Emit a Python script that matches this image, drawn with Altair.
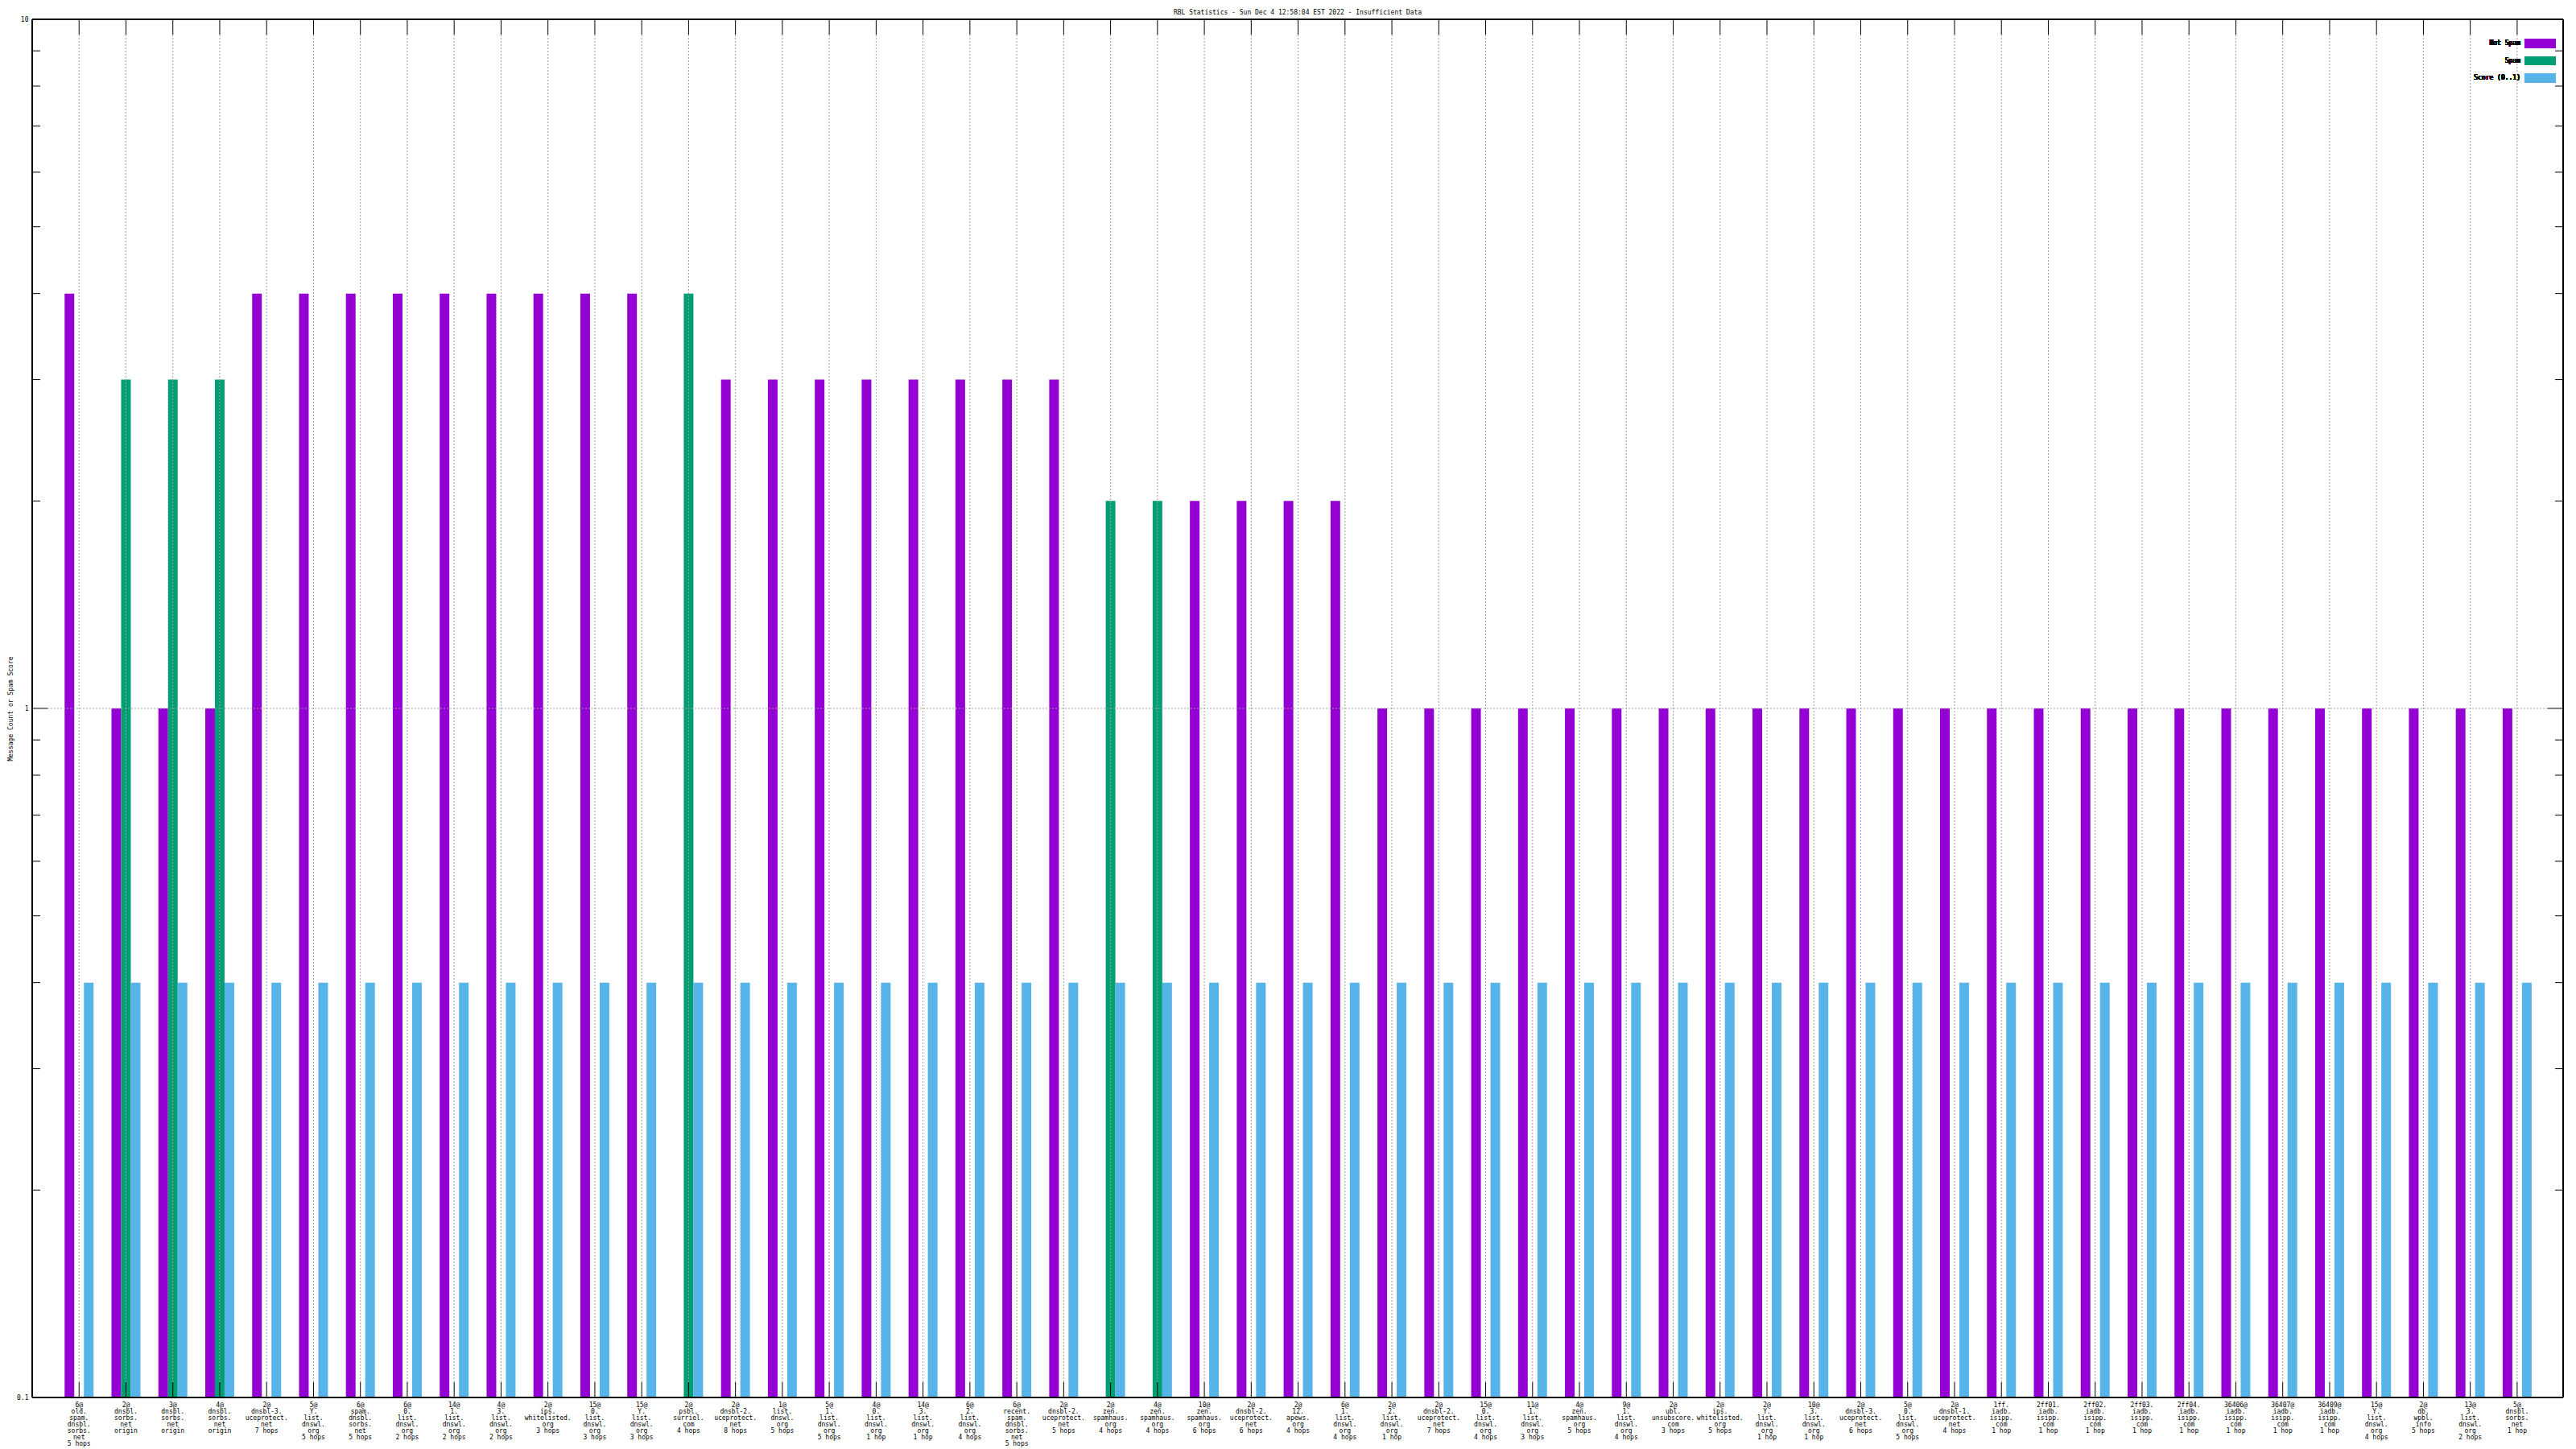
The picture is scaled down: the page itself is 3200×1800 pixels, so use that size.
import altair as alt
import pandas as pd

# ---------------- data ----------------
labels = [
    "6@|old.|spam.|dnsbl.|sorbs.|net|5 hops",
    "2@|dnsbl.|sorbs.|net|origin",
    "3@|dnsbl.|sorbs.|net|origin",
    "4@|dnsbl.|sorbs.|net|origin",
    "2@|dnsbl-3.|uceprotect.|net|7 hops",
    "5@|Y.|list.|dnswl.|org|5 hops",
    "6@|spam.|dnsbl.|sorbs.|net|5 hops",
    "6@|0.|list.|dnswl.|org|2 hops",
    "14@|1.|list.|dnswl.|org|2 hops",
    "4@|3.|list.|dnswl.|org|2 hops",
    "2@|ips.|whitelisted.|org|3 hops",
    "15@|0.|list.|dnswl.|org|3 hops",
    "15@|Y.|list.|dnswl.|org|3 hops",
    "2@|psbl.|surriel.|com|4 hops",
    "2@|dnsbl-2.|uceprotect.|net|8 hops",
    "1@|list.|dnswl.|org|5 hops",
    "5@|1.|list.|dnswl.|org|5 hops",
    "4@|0.|list.|dnswl.|org|1 hop",
    "14@|3.|list.|dnswl.|org|1 hop",
    "6@|2.|list.|dnswl.|org|4 hops",
    "6@|recent.|spam.|dnsbl.|sorbs.|net|5 hops",
    "2@|dnsbl-2.|uceprotect.|net|5 hops",
    "2@|zen.|spamhaus.|org|4 hops",
    "4@|zen.|spamhaus.|org|4 hops",
    "10@|zen.|spamhaus.|org|6 hops",
    "2@|dnsbl-2.|uceprotect.|net|6 hops",
    "2@|12.|apews.|org|4 hops",
    "6@|1.|list.|dnswl.|org|4 hops",
    "2@|2.|list.|dnswl.|org|1 hop",
    "2@|dnsbl-2.|uceprotect.|net|7 hops",
    "15@|0.|list.|dnswl.|org|4 hops",
    "11@|1.|list.|dnswl.|org|3 hops",
    "4@|zen.|spamhaus.|org|5 hops",
    "9@|1.|list.|dnswl.|org|4 hops",
    "2@|ubl.|unsubscore.|com|3 hops",
    "2@|ips.|whitelisted.|org|5 hops",
    "2@|Y.|list.|dnswl.|org|1 hop",
    "10@|3.|list.|dnswl.|org|1 hop",
    "2@|dnsbl-3.|uceprotect.|net|6 hops",
    "5@|0.|list.|dnswl.|org|5 hops",
    "2@|dnsbl-1.|uceprotect.|net|4 hops",
    "1ff.|iadb.|isipp.|com|1 hop",
    "2ff01.|iadb.|isipp.|com|1 hop",
    "2ff02.|iadb.|isipp.|com|1 hop",
    "2ff03.|iadb.|isipp.|com|1 hop",
    "2ff04.|iadb.|isipp.|com|1 hop",
    "36406@|iadb.|isipp.|com|1 hop",
    "36407@|iadb.|isipp.|com|1 hop",
    "36409@|iadb.|isipp.|com|1 hop",
    "15@|Y.|list.|dnswl.|org|4 hops",
    "2@|db.|wpbl.|info|5 hops",
    "13@|3.|list.|dnswl.|org|2 hops",
    "5@|dnsbl.|sorbs.|net|1 hop",
]

not_spam = [4, 1, 1, 1, 4, 4, 4, 4, 4, 4, 4, 4, 4, 0, 3, 3, 3, 3, 3, 3, 3, 3,
            0, 0, 2, 2, 2, 2, 1, 1, 1, 1, 1, 1, 1, 1, 1, 1, 1, 1, 1, 1, 1, 1,
            1, 1, 1, 1, 1, 1, 1, 1, 1]
spam = [0, 3, 3, 3, 0, 0, 0, 0, 0, 0, 0, 0, 0, 4, 0, 0, 0, 0, 0, 0, 0, 0,
        2, 2, 0, 0, 0, 0, 0, 0, 0, 0, 0, 0, 0, 0, 0, 0, 0, 0, 0, 0, 0, 0,
        0, 0, 0, 0, 0, 0, 0, 0, 0]
score = [0.4, 0.4, 0.4, 0.4, 0.4, 0.4, 0.4, 0.4, 0.4, 0.4, 0.4, 0.4, 0.4,
         0.4, 0.4, 0.4, 0.4, 0.4, 0.4, 0.4, 0.4, 0.4, 0.4, 0.4, 0.4, 0.4,
         0.4, 0.4, 0.4, 0.4, 0.4, 0.4, 0.4, 0.4, 0.4, 0.4, 0.4, 0.4, 0.4,
         0.4, 0.4, 0.4, 0.4, 0.4, 0.4, 0.4, 0.4, 0.4, 0.4, 0.4, 0.4, 0.4, 0.4]

series = ["Not Spam", "Spam", "Score (0..1)"]
colors = ["#9400D3", "#009E73", "#56B4E9"]

y_major = [0.1, 1, 10]
y_minor = [0.2, 0.3, 0.4, 0.5, 0.6, 0.7, 0.8, 0.9, 2, 3, 4, 5, 6, 7, 8, 9]

title_text = "RBL Statistics - Sun Dec  4 12:58:04 EST 2022 - Insufficient Data"
y_title = "Message Count or Spam Score"

# ---------------- tables ----------------
rows = []
for lab, a, b, c in zip(labels, not_spam, spam, score):
    for s, v in zip(series, (a, b, c)):
        if v > 0:
            rows.append({"label": lab, "series": s, "value": v})
bars_df = pd.DataFrame(rows)
cats_df = pd.DataFrame({"label": labels})
major_df = pd.DataFrame({"value": y_major})
minor_df = pd.DataFrame({"value": y_minor})

W, H = 3144, 1712
FONT = "DejaVu Sans Mono"
GRID = "#a0a0a0"

xscale = alt.Scale(domain=labels, paddingInner=0, paddingOuter=0.49, align=0.51)
yscale = alt.Scale(type="log", domain=[0.1, 10], nice=False)

x_axis = alt.Axis(
    title=None, labelExpr="split(datum.value, '|')", labelAngle=0,
    ticks=False, domain=False, grid=False, labelFont=FONT, labelFontSize=8,
    labelLineHeight=8, labelPadding=5, labelColor="black", labelOverlap=False,
    labelBaseline="top", labelBound=False, labelFlush=False, labelLimit=400,
)
y_axis = alt.Axis(
    values=y_major, format="~g", ticks=False, domain=False, grid=False,
    title=y_title, titleFont=FONT, titleFontSize=8, titleFontWeight="normal",
    titleColor="black", titleX=-23, titleY=H / 2, titleAngle=270,
    titleAlign="center", titleBaseline="bottom",
    labelFont=FONT, labelFontSize=8, labelColor="black", labelPadding=5,
)

X = alt.X("label:N", scale=xscale, axis=x_axis)
Y = alt.Y("value:Q", scale=yscale, axis=y_axis)

# grid lines (behind bars)
vgrid = alt.Chart(cats_df).mark_rule(color=GRID, strokeDash=[2, 2], strokeWidth=1).encode(
    x=X, y=alt.value(19), y2=alt.value(H - 19))
hgrid = alt.Chart(pd.DataFrame({"value": [1]})).mark_rule(
    color=GRID, strokeDash=[2, 2], strokeWidth=1).encode(
    y=Y, x=alt.value(19), x2=alt.value(W - 19))

# x ticks (inward, top and bottom)
xt_bot = alt.Chart(cats_df).mark_rule(color="black", strokeWidth=1).encode(
    x=X, y=alt.value(H - 19), y2=alt.value(H))
xt_top = alt.Chart(cats_df).mark_rule(color="black", strokeWidth=1).encode(
    x=X, y=alt.value(0), y2=alt.value(19))

# y ticks (inward, left and right)
ymaj_l = alt.Chart(major_df).mark_rule(color="black", strokeWidth=1).encode(
    y=Y, x=alt.value(0), x2=alt.value(19))
ymaj_r = alt.Chart(major_df).mark_rule(color="black", strokeWidth=1).encode(
    y=Y, x=alt.value(W - 19), x2=alt.value(W))
ymin_l = alt.Chart(minor_df).mark_rule(color="black", strokeWidth=1).encode(
    y=Y, x=alt.value(0), x2=alt.value(10))
ymin_r = alt.Chart(minor_df).mark_rule(color="black", strokeWidth=1).encode(
    y=Y, x=alt.value(W - 10), x2=alt.value(W))

bars = alt.Chart(bars_df).mark_bar(strokeWidth=0).encode(
    x=X,
    xOffset=alt.XOffset("series:N", scale=alt.Scale(domain=series, paddingInner=0, paddingOuter=0.93)),
    y=Y,
    y2=alt.datum(0.1),
    color=alt.Color("series:N", scale=alt.Scale(domain=series, range=colors), legend=None),
)

border = alt.Chart(cats_df).mark_rect(filled=False, stroke="black", strokeWidth=1).encode(
    x=alt.value(0), x2=alt.value(W), y=alt.value(0), y2=alt.value(H))

# legend (top right, inside)
leg_layers = []
row_y = [30, 51.5, 73]
for s, c, ry in zip(series, colors, row_y):
    leg_layers.append(
        alt.Chart(cats_df).mark_text(
            text=s, font=FONT, fontSize=8, align="right", baseline="middle", color="black"
        ).encode(x=alt.value(W - 53), y=alt.value(ry))
    )
    leg_layers.append(
        alt.Chart(cats_df).mark_rect(color=c).encode(
            x=alt.value(W - 48), x2=alt.value(W - 9), y=alt.value(ry - 5.5), y2=alt.value(ry + 5.5))
    )

chart = alt.layer(
    bars, vgrid, hgrid, xt_bot, xt_top, ymaj_l, ymaj_r, ymin_l, ymin_r, border, *leg_layers
).properties(
    width=W, height=H,
    title=alt.TitleParams(title_text, font=FONT, fontSize=8, fontWeight="normal",
                          color="black", anchor="middle", offset=0),
    autosize=alt.AutoSizeParams(type="none"),
    padding={"left": 32, "top": 16, "right": 8, "bottom": 64},
    background="white",
).configure_view(stroke=None)

chart.save("out.html", embed_options={"renderer": "svg", "actions": False})
